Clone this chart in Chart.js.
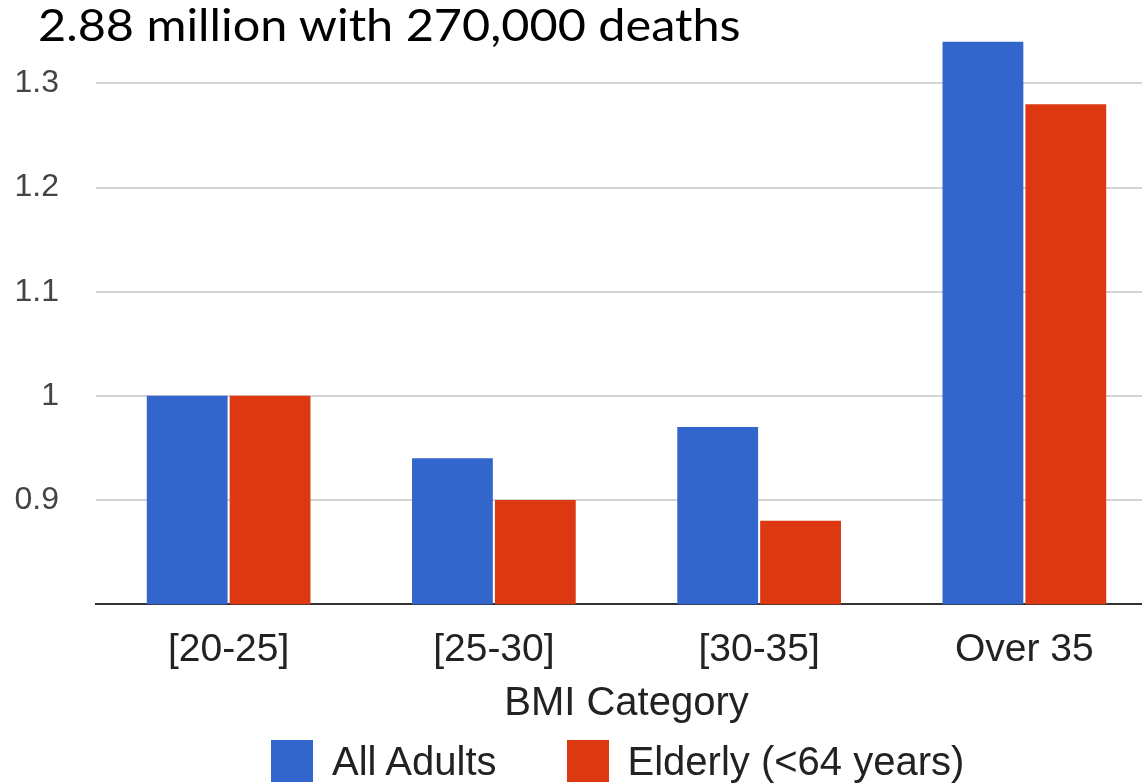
<!DOCTYPE html>
<html>
<head>
<meta charset="utf-8">
<script src="https://cdn.jsdelivr.net/npm/chart.js@4"></script>
<style>
  html, body { margin: 0; padding: 0; background: #fff; overflow: hidden; width: 1142px; height: 784px; }
  #wrap { position: absolute; left: 0; top: 0; width: 1158px; height: 784px; }
  #title { position: absolute; left: 38px; top: 2px; font-family: Lato, "Open Sans", sans-serif; font-size: 45px; line-height: 45px; color: #000; white-space: nowrap; transform: scaleX(1.08); transform-origin: 0 0; }
  #legend { position: absolute; left: 271px; top: 740px; height: 42px; display: flex; align-items: center; font-family: "Liberation Sans", Arial, sans-serif; font-size: 40px; color: #222; white-space: nowrap; }
  .sw { width: 42px; height: 42px; margin-right: 19px; }
  .item { display: flex; align-items: center; margin-right: 70px; }
</style>
</head>
<body>
<div id="wrap"><canvas id="c"></canvas></div>
<div id="title">2.88 million with 270,000 deaths</div>
<div id="legend"></div>
<script>
const categories = ['[20-25]', '[25-30]', '[30-35]', 'Over 35'];
const allAdults = [1.0, 0.94, 0.97, 1.34];
const elderly = [1.0, 0.90, 0.88, 1.28];
const yTicks = [0.9, 1.0, 1.1, 1.2, 1.3];
const seriesNames = ['All Adults', 'Elderly (<64 years)'];
const seriesColors = ['#3366CC', '#DC3912'];

const legend = document.getElementById('legend');
seriesNames.forEach((n, i) => {
  const it = document.createElement('div');
  it.className = 'item';
  const sw = document.createElement('div');
  sw.className = 'sw';
  sw.style.background = seriesColors[i];
  const tx = document.createElement('span');
  tx.textContent = n;
  it.appendChild(sw); it.appendChild(tx);
  legend.appendChild(it);
});

new Chart(document.getElementById('c'), {
  type: 'bar',
  data: {
    labels: categories,
    datasets: [
      { label: seriesNames[0], data: allAdults, backgroundColor: seriesColors[0], barPercentage: 0.975, categoryPercentage: 0.625 },
      { label: seriesNames[1], data: elderly, backgroundColor: seriesColors[1], barPercentage: 0.975, categoryPercentage: 0.625 }
    ]
  },
  options: {
    responsive: true,
    maintainAspectRatio: false,
    animation: false,
    layout: { padding: { top: 0, right: 1, bottom: 56, left: 0 } },
    plugins: { legend: { display: false }, tooltip: { enabled: false }, title: { display: false } },
    scales: {
      x: {
        grid: { display: false, drawTicks: false },
        border: { display: true, color: '#333', width: 2 },
        ticks: { color: '#222', padding: 23, font: { family: '"Liberation Sans", Arial, sans-serif', size: 39 } },
        title: { display: true, text: 'BMI Category', color: '#222', padding: { top: -17, bottom: 0 }, font: { family: '"Liberation Sans", Arial, sans-serif', size: 40 } }
      },
      y: {
        min: 0.8,
        max: 1.38,
        afterBuildTicks: (s) => { s.ticks = yTicks.map(v => ({ value: v })); },
        afterFit: (s) => { s.width = 96; s.paddingTop = 0; s.paddingBottom = 0; },
        grid: { color: '#d4d4d4', lineWidth: 2, drawTicks: false },
        border: { display: false },
        ticks: { color: '#444', padding: 37, callback: (v) => String(v), font: { family: '"Liberation Sans", Arial, sans-serif', size: 32 } }
      }
    }
  }
});
</script>
</body>
</html>
